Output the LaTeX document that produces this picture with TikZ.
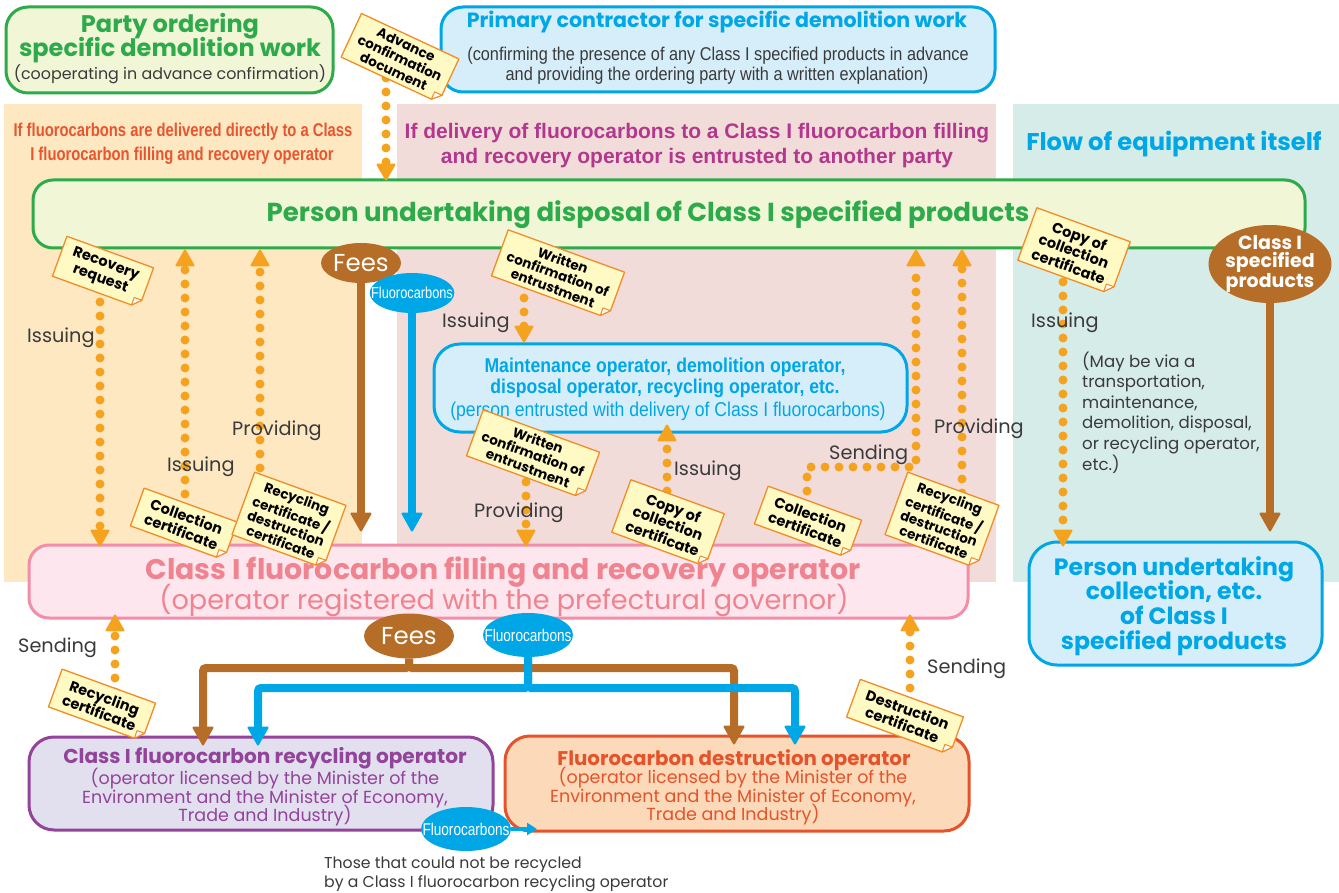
\documentclass[tikz,border=0pt]{standalone}
\usepackage{fontspec}
\setmainfont{Poppins}
\newfontfamily\condL[FakeStretch=0.80]{Liberation Sans}
\newfontfamily\condM[FakeStretch=0.88]{Liberation Sans}
\newfontfamily\condH{Liberation Sans}
\usetikzlibrary{arrows.meta,calc,shapes.geometric}
\pgfdeclarelayer{conn}
\pgfdeclarelayer{blobs}
\pgfdeclarelayer{tagback}
\pgfdeclarelayer{tagfront}
\pgfsetlayers{main,conn,blobs,tagback,tagfront}
\newcommand\fsz[1]{\fontsize{#1}{#1}\selectfont}
\definecolor{cgreen}{HTML}{2DAA4A}
\definecolor{cgreenfill}{HTML}{F1F6D6}
\definecolor{cblue}{HTML}{00A7E6}
\definecolor{cbluefill}{HTML}{D6EEFA}
\definecolor{cbrown}{HTML}{B56D27}
\definecolor{corange}{HTML}{F5A21E}
\definecolor{cpink}{HTML}{F28DAA}
\definecolor{cpinktext}{HTML}{F08390}
\definecolor{cpinkfill}{HTML}{FDE6EE}
\definecolor{cpurple}{HTML}{92449B}
\definecolor{cpurplefill}{HTML}{E2DFEE}
\definecolor{cred}{HTML}{E4532B}
\definecolor{credfill}{HTML}{FCDAB9}
\definecolor{cpanelL}{HTML}{FDE8C2}
\definecolor{cpanelM}{HTML}{F2DCDA}
\definecolor{cpanelR}{HTML}{D6ECE8}
\definecolor{cheadL}{HTML}{E8552E}
\definecolor{cheadM}{HTML}{B3378C}
\definecolor{ctagfill}{HTML}{FFFAC4}
\definecolor{ctagline}{HTML}{F28C28}
\definecolor{cgray}{HTML}{3A3A3A}
\newcommand\papertag[6][]{%
  \begin{pgfonlayer}{tagfront}
    \node[tagtext,#1,rotate=#5] (#2) at (#3,#4) {#6};
  \end{pgfonlayer}
  \begin{pgfonlayer}{tagback}
    \coordinate (#2-a) at ($(#2.south east)!8pt!(#2.north east)$);
    \coordinate (#2-b) at ($(#2.south east)!8pt!(#2.south west)$);
    \coordinate (#2-c) at ($(#2-a)+(#2-b)-(#2.south east)$);
    \filldraw[tagshape] (#2.north west) -- (#2.north east) -- (#2-a) -- (#2-b) -- (#2.south west) -- cycle;
    \filldraw[tagfold] (#2-a) -- (#2-b) -- (#2-c) -- cycle;
  \end{pgfonlayer}}
\begin{document}
\begin{tikzpicture}[x=1pt,y=-1pt,
  box/.style={draw, line width=3pt, inner sep=0pt},
  txt/.style={inner sep=0pt, anchor=base},
  lbl/.style={font={\fsz{19.3}}, text=cgray, inner sep=0pt, anchor=base west},
  note/.style={inner sep=0pt, anchor=base west, text=cgray},
  dotline/.style={draw=corange, line width=9pt, line cap=round, dash pattern=on 0pt off 14pt},
  dotarrow/.style={dotline, -{Triangle[width=20pt,length=18pt,line width=2pt,round]}},
  brownarrow/.style={draw=cbrown, line width=8pt, rounded corners=3pt, -{Triangle[width=22pt,length=20pt,line width=2pt,round]}},
  bluearrow/.style={draw=cblue, line width=8pt, rounded corners=3pt, -{Triangle[width=22pt,length=20pt,line width=2pt,round]}},
  blob/.style={ellipse, inner sep=0pt, text=white},
  tagtext/.style={font={\bfseries\fontsize{14.5}{16}\selectfont}, align=center, inner xsep=11pt, inner ysep=6pt, text=black},
  tagfour/.style={font={\bfseries\fontsize{13.5}{14.8}\selectfont}, inner xsep=8pt, inner ysep=4pt},
  tagshape/.style={fill=ctagfill, draw=ctagline, line width=1.3pt, line join=round},
  tagfold/.style={fill=white, draw=ctagline, line width=1pt, line join=round},
]
\useasboundingbox (0,0) rectangle (1339,893);
\fill[white] (0,0) rectangle (1339,893);
% panels
\fill[cpanelL] (4,104) rectangle (362,582);
\fill[cpanelM] (397,104) rectangle (996,582);
\fill[cpanelR] (1013,104) rectangle (1339,582);
% panel headers
\node[txt, font={\condL\bfseries\fsz{18.5}}, text=cheadL] (hL1) at (183,137) {If fluorocarbons are delivered directly to a Class};
\node[txt, font={\condL\bfseries\fsz{18.5}}, text=cheadL] (hL2) at (182,161) {I fluorocarbon filling and recovery operator};
\node[txt, font={\condH\bfseries\fsz{21}}, text=cheadM] (hM1) at (697,139) {If delivery of fluorocarbons to a Class I fluorocarbon filling};
\node[txt, font={\condH\bfseries\fsz{21}}, text=cheadM] (hM2) at (697,164) {and recovery operator is entrusted to another party};
\node[txt, font={\bfseries\fsz{24.2}}, text=cblue] (hR) at (1174,151) {Flow of equipment itself};
% boxes
\node[box, draw=cgreen, fill=cgreenfill, rounded corners=22pt, minimum width=327pt, minimum height=86pt] (party) at (169.5,50) {};
\node[box, draw=cblue, fill=cbluefill, rounded corners=22pt, minimum width=554pt, minimum height=85pt] (prim) at (718,49.5) {};
\node[box, draw=cgreen, fill=cgreenfill, rounded corners=20pt, minimum width=1272pt, minimum height=68pt] (disp) at (669,214) {};
\node[box, draw=cblue, fill=cbluefill, rounded corners=26pt, minimum width=473pt, minimum height=88pt] (maint) at (670.5,388) {};
\node[box, draw=cpink, fill=cpinkfill, rounded corners=20pt, minimum width=939pt, minimum height=73pt] (frop) at (498.5,581.5) {};
\node[box, draw=cblue, fill=cbluefill, rounded corners=28pt, minimum width=293pt, minimum height=123pt] (coll) at (1175.5,603.5) {};
\node[box, draw=cpurple, fill=cpurplefill, rounded corners=25pt, minimum width=464pt, minimum height=93pt] (recy) at (261,783.5) {};
\node[box, draw=cred, fill=credfill, rounded corners=25pt, minimum width=464pt, minimum height=95pt] (dest) at (737,783.5) {};
% box texts
\node[txt, font={\bfseries\fsz{24}}, text=cgreen] (party1) at (170,33) {Party ordering};
\node[txt, font={\bfseries\fsz{24}}, text=cgreen] (party2) at (170,57) {specific demolition work};
\node[txt, font={\fsz{15.9}}, text=cgray] (party3) at (170,80) {(cooperating in advance confirmation)};
\node[txt, font={\bfseries\fsz{20.6}}, text=cblue] (prim1) at (717,28) {Primary contractor for specific demolition work};
\node[txt, font={\condM\fsz{18.5}}, text=cgray] (prim2) at (718,61) {(confirming the presence of any Class I specified products in advance};
\node[txt, font={\condM\fsz{18.5}}, text=cgray] (prim3) at (717,81) {and providing the ordering party with a written explanation)};
\node[txt, font={\bfseries\fsz{26}}, text=cgreen] (dispT) at (648,222) {Person undertaking disposal of Class I specified products};
\node[txt, font={\condM\bfseries\fsz{20}}, text=cblue] (m1) at (665,372) {Maintenance operator, demolition operator,};
\node[txt, font={\condM\bfseries\fsz{20}}, text=cblue] (m2) at (665,393) {disposal operator, recycling operator, etc.};
\node[txt, font={\condM\fsz{20}}, text=cblue] (m3) at (668,416) {(person entrusted with delivery of Class I fluorocarbons)};
\node[txt, font={\bfseries\fsz{28.4}}, text=cpinktext] (f1) at (503,579) {Class I fluorocarbon filling and recovery operator};
\node[txt, font={\fsz{27.1}}, text=cpinktext] (f2) at (504,609) {(operator registered with the prefectural governor)};
\node[txt, font={\bfseries\fsz{23.6}}, text=cblue] (c1) at (1174,575) {Person undertaking};
\node[txt, font={\bfseries\fsz{23.6}}, text=cblue] (c2) at (1174,599) {collection, etc.};
\node[txt, font={\bfseries\fsz{23.6}}, text=cblue] (c3) at (1174,624) {of Class I};
\node[txt, font={\bfseries\fsz{23.6}}, text=cblue] (c4) at (1174,649) {specified products};
\node[txt, font={\bfseries\fsz{20.1}}, text=cpurple] (r1) at (265,763) {Class I fluorocarbon recycling operator};
\node[txt, font={\fsz{17.5}}, text=cpurple] (r2) at (265,784) {(operator licensed by the Minister of the};
\node[txt, font={\fsz{17.5}}, text=cpurple] (r3) at (265,803) {Environment and the Minister of Economy,};
\node[txt, font={\fsz{17.5}}, text=cpurple] (r4) at (265,821) {Trade and Industry)};
\node[txt, font={\bfseries\fsz{19.8}}, text=cred] (d1) at (734,765) {Fluorocarbon destruction operator};
\node[txt, font={\fsz{17.5}}, text=cred] (d2) at (733,783) {(operator licensed by the Minister of the};
\node[txt, font={\fsz{17.5}}, text=cred] (d3) at (733,802) {Environment and the Minister of Economy,};
\node[txt, font={\fsz{17.5}}, text=cred] (d4) at (733,820) {Trade and Industry)};
% blobs
\begin{pgfonlayer}{blobs}
\node[blob, fill=cbrown, minimum width=80pt, minimum height=40pt, font={\fsz{24.5}}] (fees1) at (361,263) {Fees};
\node[blob, fill=cblue, minimum width=84pt, minimum height=40pt, inner xsep=-11pt, font={\condL\fsz{16}}] (fluo1) at (412,293) {Fluorocarbons};
\node[blob, fill=cbrown, minimum width=123pt, minimum height=78pt, inner sep=-3pt, align=center, font={\bfseries\fontsize{19}{17.5}\selectfont}] (cls) at (1270,264) {Class I\\specified\\products};
\node[blob, fill=cbrown, minimum width=90pt, minimum height=45pt, font={\fsz{24.5}}] (fees2) at (409,636) {Fees};
\node[blob, fill=cblue, minimum width=90pt, minimum height=44pt, inner xsep=-12pt, font={\condL\fsz{17}}] (fluo2) at (528,635) {Fluorocarbons};
\node[blob, fill=cblue, minimum width=90pt, minimum height=44pt, inner xsep=-12pt, font={\condL\fsz{17}}] (fluo3) at (466,829) {Fluorocarbons};
\end{pgfonlayer}
% connector coordinates
\coordinate (sAdv) at (386,78);
\coordinate (sRR) at (100,288);
\coordinate (sCC1) at (185,508);
\coordinate (sRD1) at (260,496);
\coordinate (sWC1) at (524,284);
\coordinate (sWC2) at (526,468);
\coordinate (sCP1) at (667,505);
\coordinate (sCC2) at (807,505);
\coordinate (kCC2) at (916,467);
\coordinate (sRD2) at (962,507);
\coordinate (sCP2) at (1063,268);
\coordinate (sRC) at (115,692);
\coordinate (sDC) at (910,702);
\coordinate (bL) at (203,668);
\coordinate (bR) at (734,668);
\coordinate (uL) at (258,688);
\coordinate (uR) at (795,688);
\coordinate (fl3end) at (537,829);
\begin{pgfonlayer}{conn}
\draw[dotarrow, shorten >=-2pt] (sAdv) -- (sAdv |- disp.north);
\draw[dotarrow, shorten >=-3pt] (sRR) -- (sRR |- frop.north);
\draw[dotarrow] (sCC1) -- (sCC1 |- disp.south);
\draw[dotarrow] (sRD1) -- (sRD1 |- disp.south);
\draw[dotarrow] (sWC1) -- (sWC1 |- maint.north);
\draw[dotarrow, shorten >=-3pt] (sWC2) -- (sWC2 |- frop.north);
\draw[dotarrow, shorten >=-9pt] (sCP1) -- (sCP1 |- maint.south);
\draw[dotarrow] (sCC2) |- (kCC2) -- (kCC2 |- disp.south);
\draw[dotarrow] (sRD2) -- (sRD2 |- disp.south);
\draw[dotarrow, shorten >=-6pt] (sCP2) -- (sCP2 |- coll.north);
\draw[dotarrow, shorten >=-5pt] (sRC) -- (sRC |- frop.south);
\draw[dotarrow, shorten >=-5pt] (sDC) -- (sDC |- frop.south);
\draw[brownarrow, shorten >=12pt] (fees1) -- (fees1 |- frop.north);
\draw[bluearrow, shorten >=12pt] (fluo1) -- (fluo1 |- frop.north);
\draw[brownarrow, shorten >=9pt] (cls) -- (cls |- coll.north);
\draw[brownarrow, shorten >=-10pt] (fees2) |- (bL) -- (bL |- recy.north);
\draw[brownarrow, shorten >=-10pt] (fees2) |- (bR) -- (bR |- dest.north);
\draw[bluearrow, shorten >=-10pt] (fluo2) |- (uL) -- (uL |- recy.north);
\draw[bluearrow, shorten >=-10pt] (fluo2) |- (uR) -- (uR |- dest.north);
\draw[draw=cblue, line width=3.5pt, -{Triangle[width=12pt,length=10pt]}] (fluo3.east) -- (fl3end);
\end{pgfonlayer}
% labels and notes
\begin{pgfonlayer}{blobs}
\node[lbl] (lab1) at (27,343) {Issuing};
\node[lbl] (lab2) at (167,471) {Issuing};
\node[lbl] (lab3) at (232,435) {Providing};
\node[lbl] (lab4) at (442,327) {Issuing};
\node[lbl] (lab5) at (474,517) {Providing};
\node[lbl] (lab6) at (674,475) {Issuing};
\node[lbl] (lab7) at (829,459) {Sending};
\node[lbl] (lab8) at (934,433) {Providing};
\node[lbl] (lab9) at (1031,328) {Issuing};
\node[lbl] (lab10) at (18,652) {Sending};
\node[lbl] (lab11) at (927,673) {Sending};
\node[note, font={\fsz{16.6}}] (n1) at (1082,367) {(May be via a};
\node[note, font={\fsz{16.6}}] (n2) at (1082,387) {transportation,};
\node[note, font={\fsz{16.6}}] (n3) at (1082,408) {maintenance,};
\node[note, font={\fsz{16.6}}] (n4) at (1082,428) {demolition, disposal,};
\node[note, font={\fsz{16.6}}] (n5) at (1082,449) {or recycling operator,};
\node[note, font={\fsz{16.6}}] (n6) at (1082,470) {etc.)};
\node[note, font={\fsz{15.7}}] (b1) at (324,868) {Those that could not be recycled};
\node[note, font={\fsz{15.7}}] (b2) at (324,887) {by a Class I fluorocarbon recycling operator};
\end{pgfonlayer}
% document tags
\papertag[tagfour]{tAdv}{400}{58}{-25}{Advance\\confirmation\\document}
\papertag{tRR}{103}{272}{-20}{Recovery\\request}
\papertag{tCC1}{184}{524}{-20}{Collection\\certificate}
\papertag[tagfour]{tRD1}{289}{520}{-20}{Recycling\\certificate /\\destruction\\certificate}
\papertag[tagfour]{tWC1}{558}{274}{-20}{Written\\confirmation of\\entrustment}
\papertag[tagfour]{tWC2}{533}{454}{-20}{Written\\confirmation of\\entrustment}
\papertag{tCP1}{668}{523}{-20}{Copy of\\collection\\certificate}
\papertag{tCC2}{808}{522}{-20}{Collection\\certificate}
\papertag[tagfour]{tRD2}{942}{520}{-20}{Recycling\\certificate /\\destruction\\certificate}
\papertag{tCP2}{1074}{251}{-20}{Copy of\\collection\\certificate}
\papertag{tRC}{102}{705}{-20}{Recycling\\certificate}
\papertag{tDC}{905}{717}{-20}{Destruction\\certificate}
\end{tikzpicture}
\end{document}
